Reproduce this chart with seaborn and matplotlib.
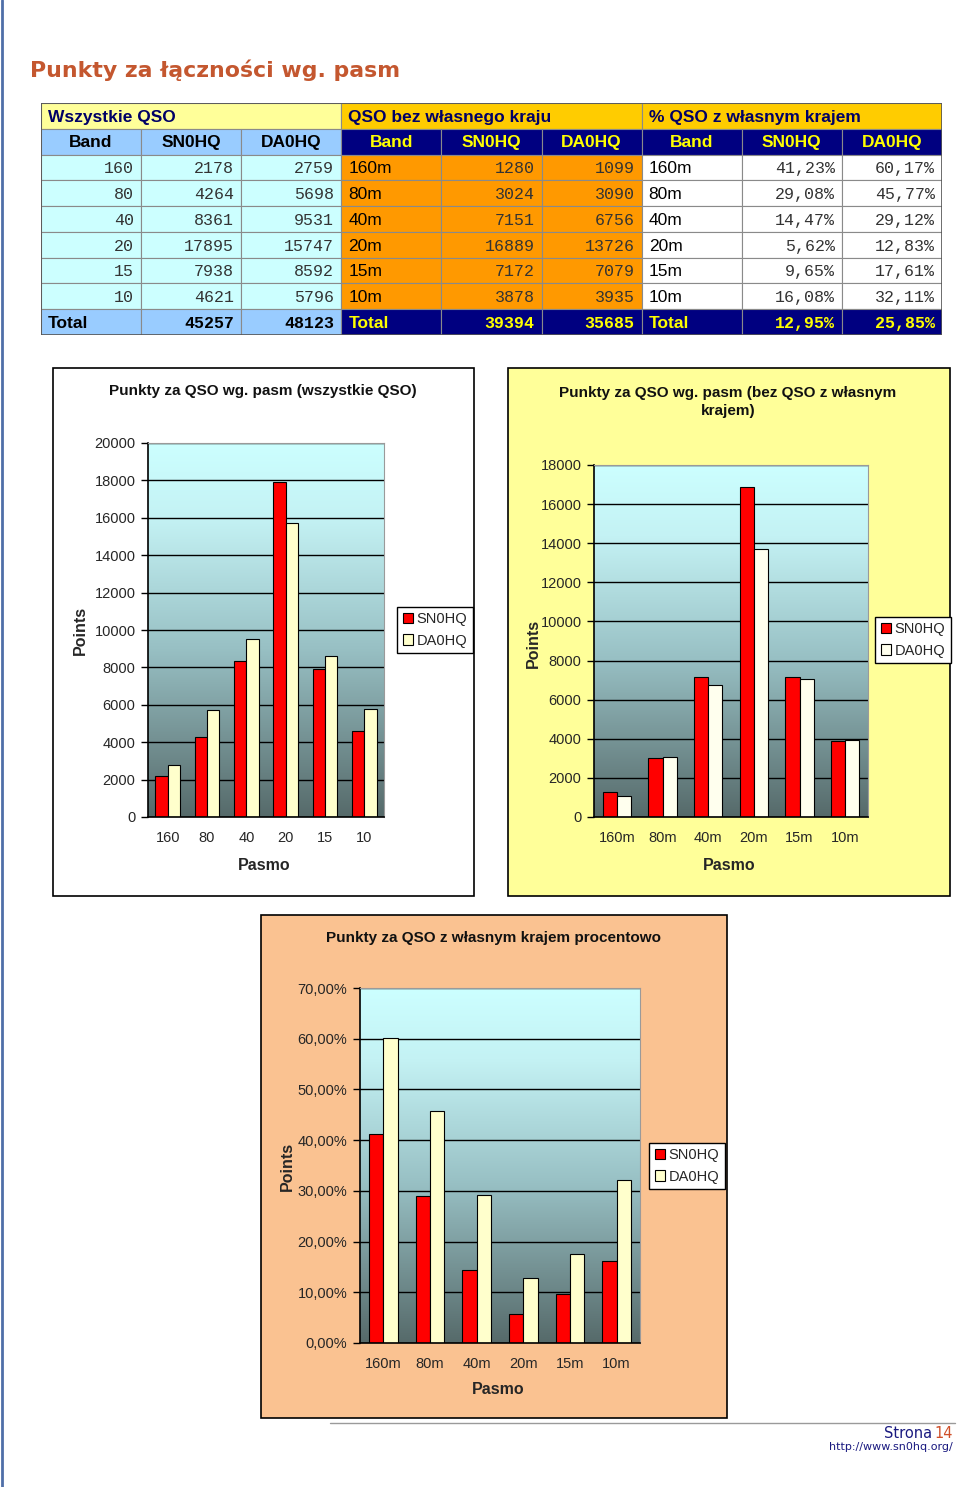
import numpy as np
import pandas as pd
import matplotlib
matplotlib.use("Agg")
import matplotlib.pyplot as plt
import seaborn as sns
from matplotlib.patches import Rectangle, Patch
from matplotlib.colors import LinearSegmentedColormap
from matplotlib.ticker import MultipleLocator, FuncFormatter

# --- data read from the page ---
bands_num = ["160", "80", "40", "20", "15", "10"]
bands_m = ["160m", "80m", "40m", "20m", "15m", "10m"]
stations = ["SN0HQ", "DA0HQ"]

all_sn = [2178, 4264, 8361, 17895, 7938, 4621]
all_da = [2759, 5698, 9531, 15747, 8592, 5796]
all_total = [45257, 48123]

foreign_sn = [1280, 3024, 7151, 16889, 7172, 3878]
foreign_da = [1099, 3090, 6756, 13726, 7079, 3935]
foreign_total = [39394, 35685]

pct_sn = [41.23, 29.08, 14.47, 5.62, 9.65, 16.08]
pct_da = [60.17, 45.77, 29.12, 12.83, 17.61, 32.11]
pct_total = [12.95, 25.85]

W, H = 960, 1487
sns.set_style("white")
plt.rcParams["font.family"] = ["Liberation Sans", "DejaVu Sans"]
MONO = "Liberation Mono"

fig = plt.figure(figsize=(W / 100, H / 100), dpi=100)
fig.patch.set_facecolor("white")


def px_axes(x0, y0, x1, y1):
    return fig.add_axes([x0 / W, 1 - y1 / H, (x1 - x0) / W, (y1 - y0) / H])


def ftext(x, y, s, **kw):
    fig.text(x / W, 1 - y / H, s, **kw)


def pct_fmt(v):
    return f"{v:.2f}%".replace(".", ",")


# page border on the left and page title
fig.add_artist(plt.Line2D([1.5 / W, 1.5 / W], [0, 1], transform=fig.transFigure,
                          color="#4F6FA8", lw=2))
ftext(30, 70, "Punkty za łączności wg. pasm", fontsize=15.8, fontweight="bold",
      color="#C4572F", family="DejaVu Sans", va="center", ha="left")

# --- table ---
tab = px_axes(41, 103, 942, 335)
tab.set_xlim(0, 9)
tab.set_ylim(9, 0)
tab.axis("off")

NAVY = "#000080"
YEL = "#FFFF00"
GRID = "#8A8A8A"


def cell(c, r, w, bg):
    tab.add_patch(Rectangle((c, r), w, 1, facecolor=bg, edgecolor=GRID, lw=0.8))


def ctext(c, r, s, align="left", **kw):
    if align == "left":
        x, ha = c + 0.07, "left"
    elif align == "right":
        x, ha = c + 0.93, "right"
    else:
        x, ha = c + 0.5, "center"
    tab.text(x, r + 0.55, s, ha=ha, va="center", **kw)


groups = ["Wszystkie QSO", "QSO bez własnego kraju", "% QSO z własnym krajem"]
group_bg = ["#FFFF99", "#FFCC00", "#FFCC00"]
for g, (name, bg) in enumerate(zip(groups, group_bg)):
    cell(3 * g, 0, 3, bg)
    ctext(3 * g, 0, name, fontsize=12.5, fontweight="bold", color="#000066")

sub = ["Band", "SN0HQ", "DA0HQ"] * 3
for c, s in enumerate(sub):
    if c < 3:
        cell(c, 1, 1, "#99CCFF")
        ctext(c, 1, s, "center", fontsize=12.5, fontweight="bold", color="black")
    else:
        cell(c, 1, 1, NAVY)
        ctext(c, 1, s, "center", fontsize=12.5, fontweight="bold", color=YEL)

for i in range(6):
    r = 2 + i
    for c in range(3):
        cell(c, r, 1, "#CCFFFF")
    ctext(0, r, bands_num[i], "right", fontsize=12, family=MONO, color="#333333")
    ctext(1, r, str(all_sn[i]), "right", fontsize=12, family=MONO, color="#333333")
    ctext(2, r, str(all_da[i]), "right", fontsize=12, family=MONO, color="#333333")
    for c in range(3, 6):
        cell(c, r, 1, "#FF9900")
    ctext(3, r, bands_m[i], "left", fontsize=12.5, color="black")
    ctext(4, r, str(foreign_sn[i]), "right", fontsize=12, family=MONO, color="#333333")
    ctext(5, r, str(foreign_da[i]), "right", fontsize=12, family=MONO, color="#333333")
    for c in range(6, 9):
        cell(c, r, 1, "white")
    ctext(6, r, bands_m[i], "left", fontsize=12.5, color="black")
    ctext(7, r, pct_fmt(pct_sn[i]), "right", fontsize=12, family=MONO, color="#333333")
    ctext(8, r, pct_fmt(pct_da[i]), "right", fontsize=12, family=MONO, color="#333333")

for c in range(3):
    cell(c, 8, 1, "#99CCFF")
ctext(0, 8, "Total", "left", fontsize=12.5, fontweight="bold", color="black")
ctext(1, 8, str(all_total[0]), "right", fontsize=12, family=MONO, fontweight="bold", color="black")
ctext(2, 8, str(all_total[1]), "right", fontsize=12, family=MONO, fontweight="bold", color="black")
for c in range(3, 9):
    cell(c, 8, 1, NAVY)
ctext(3, 8, "Total", "left", fontsize=12.5, fontweight="bold", color=YEL)
ctext(4, 8, str(foreign_total[0]), "right", fontsize=12, family=MONO, fontweight="bold", color=YEL)
ctext(5, 8, str(foreign_total[1]), "right", fontsize=12, family=MONO, fontweight="bold", color=YEL)
ctext(6, 8, "Total", "left", fontsize=12.5, fontweight="bold", color=YEL)
ctext(7, 8, pct_fmt(pct_total[0]), "right", fontsize=12, family=MONO, fontweight="bold", color=YEL)
ctext(8, 8, pct_fmt(pct_total[1]), "right", fontsize=12, family=MONO, fontweight="bold", color=YEL)
tab.add_patch(Rectangle((0, 0), 9, 9, facecolor="none", edgecolor="#555555", lw=1.2))

# --- charts ---
grad = LinearSegmentedColormap.from_list(
    "excel", [(0, "#566A6A"), (0.45, "#98C0C4"), (0.8, "#C4F2F4"), (1, "#CCFFFF")])
grad_vals = np.linspace(0, 1, 256).reshape(-1, 1)


def bar_chart(frame, plot, labels, sn, da, ymax, step, title, title_y, title_cx,
              ylab_xy, xlab_xy, leg_xy, face, da_color, fmt=None):
    x0, y0, x1, y1 = frame
    fig.patches.append(Rectangle((x0 / W, 1 - y1 / H), (x1 - x0) / W, (y1 - y0) / H,
                                 transform=fig.transFigure, facecolor=face,
                                 edgecolor="black", lw=1.2, zorder=-1))
    ax = px_axes(*plot)
    ax.set_facecolor("none")
    df = pd.DataFrame({"Pasmo": labels * 2, "Points": sn + da,
                       "Stacja": [stations[0]] * 6 + [stations[1]] * 6})
    ax.imshow(grad_vals, extent=(-0.5, 5.5, 0, ymax), aspect="auto", origin="lower",
              cmap=grad, zorder=0)
    sns.barplot(data=df, x="Pasmo", y="Points", hue="Stacja",
                palette=["#FF0000", da_color], width=0.62, saturation=1,
                edgecolor="black", linewidth=0.8, errorbar=None, legend=False, ax=ax)
    ax.set_xlim(-0.5, 5.5)
    ax.set_ylim(0, ymax)
    ax.yaxis.set_major_locator(MultipleLocator(step))
    if fmt:
        ax.yaxis.set_major_formatter(FuncFormatter(lambda v, p: fmt(v)))
    ax.set_axisbelow(True)
    ax.yaxis.grid(True, color="black", lw=1)
    ax.set_xlabel("")
    ax.set_ylabel("")
    ax.set_xticks(np.arange(-0.5, 6, 1), minor=True)
    ax.tick_params(axis="x", which="major", length=0, labelsize=10.5, pad=10)
    ax.tick_params(axis="x", which="minor", length=5, width=1, direction="out", color="black")
    ax.tick_params(axis="y", length=5, width=1, direction="out", color="black",
                   labelsize=10.5, pad=4, left=True)
    for s in ["left", "bottom"]:
        ax.spines[s].set_color("black")
        ax.spines[s].set_linewidth(1.2)
    for s in ["top", "right"]:
        ax.spines[s].set_color("#9A9A9A")
        ax.spines[s].set_linewidth(0.8)
    ftext(title_cx, title_y, title, fontsize=11, fontweight="bold", ha="center",
          va="center", linespacing=1.4, color="#111111")
    ftext(ylab_xy[0], ylab_xy[1], "Points", fontsize=11.5, fontweight="bold",
          rotation=90, ha="center", va="center")
    ftext(xlab_xy[0], xlab_xy[1], "Pasmo", fontsize=11.5, fontweight="bold",
          ha="center", va="center")
    handles = [Patch(facecolor="#FF0000", edgecolor="black", lw=0.8),
               Patch(facecolor=da_color, edgecolor="black", lw=0.8)]
    fig.legend(handles, stations, loc="center",
               bbox_to_anchor=(leg_xy[0] / W, 1 - leg_xy[1] / H),
               fontsize=10.5, frameon=True, fancybox=False, edgecolor="black",
               framealpha=1, handlelength=0.7, handleheight=0.7,
               handletextpad=0.2, borderpad=0.4, labelspacing=0.5,
               borderaxespad=0)
    return ax


bar_chart((53, 368, 474, 896), (148, 443, 384, 817), bands_num, all_sn, all_da,
          20000, 2000, "Punkty za QSO wg. pasm (wszystkie QSO)", 391, 263,
          (80, 630), (264, 866), (435, 630), "white", "#FFFFCC")

bar_chart((508, 368, 950, 896), (594, 465, 868, 817), bands_m, foreign_sn, foreign_da,
          18000, 2000, "Punkty za QSO wg. pasm (bez QSO z własnym\nkrajem)", 402, 728,
          (533, 643), (729, 866), (913, 640), "#FFFF99", "#FFFFEE")

bar_chart((261, 915, 727, 1418), (360, 988, 640, 1343), bands_m, pct_sn, pct_da,
          70, 10, "Punkty za QSO z własnym krajem procentowo", 938, 493,
          (287, 1166), (498, 1389), (687, 1166), "#FAC291", "#FFFFCC", fmt=pct_fmt)

# --- footer ---
fig.add_artist(plt.Line2D([330 / W, 955 / W], [1 - 1423 / H, 1 - 1423 / H],
                          transform=fig.transFigure, color="#9A9A9A", lw=1))
ftext(953, 1433, "14", fontsize=10.5, family="DejaVu Sans", color="#D0502A",
      ha="right", va="center")
ftext(932, 1433, "Strona", fontsize=10.5, family="DejaVu Sans", color="#1A1A80",
      ha="right", va="center")
ftext(953, 1447, "http://www.sn0hq.org/", fontsize=8, family="DejaVu Sans",
      color="#1A1A80", ha="right", va="center")

fig.savefig("out.png", dpi=100)
plt.close(fig)
